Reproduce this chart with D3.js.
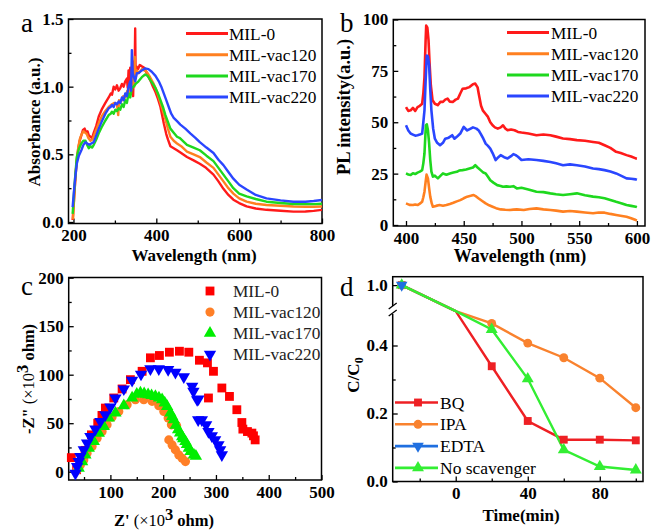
<!DOCTYPE html>
<html>
<head>
<meta charset="UTF-8">
<title>MIL panels</title>
<script src="https://cdn.jsdelivr.net/npm/d3@7"></script>
<style>
body{margin:0;background:#fff}
svg text{font-family:"Liberation Serif","Times New Roman",serif}
</style>
</head>
<body>
<div id="root"></div>
<script>
// ---- panel a : UV-vis absorbance [wavelength, absorbance]
const absMIL0 = [[198,0.015],[201,0.15],[204,0.29],[207,0.42],[211,0.53],[215,0.6],[219,0.64],[223,0.68],[227,0.69],[231,0.66],[234,0.67],[237,0.64],[241,0.63],[245,0.62],[249,0.66],[255,0.71],[261,0.78],[268,0.83],[277,0.88],[285,0.92],[290,0.95],[293,0.94],[297,1.0],[301,0.98],[305,1.01],[309,0.97],[313,0.99],[317,1.02],[321,1.0],[325,1.04],[329,1.06],[331,0.99],[333,1.12],[335,1.05],[337,1.14],[339,0.98],[342,1.15],[344,0.93],[346,1.18],[348,1.2],[349,1.43],[350,1.1],[352,1.15],[356,1.13],[360,1.16],[365,1.15],[371,1.14],[377,1.1],[385,1.05],[392,1.0],[398,0.96],[404,0.91],[410,0.85],[418,0.73],[424,0.65],[428,0.61],[434,0.56],[442,0.545],[450,0.53],[460,0.51],[474,0.48],[490,0.455],[505,0.43],[520,0.4],[538,0.35],[550,0.3],[562,0.245],[574,0.2],[586,0.165],[600,0.14],[618,0.115],[640,0.1],[666,0.09],[700,0.083],[731,0.077],[760,0.078],[780,0.082],[800,0.09]]
const absVac120 = [[199,0.02],[202,0.2],[205,0.35],[208,0.46],[212,0.56],[216,0.62],[220,0.65],[224,0.67],[228,0.66],[232,0.65],[236,0.62],[241,0.6],[246,0.61],[251,0.65],[256,0.69],[261,0.73],[268,0.78],[277,0.82],[285,0.85],[293,0.87],[299,0.88],[305,0.87],[308,0.79],[310,0.9],[315,0.89],[320,0.93],[325,0.92],[330,0.97],[334,0.95],[337,1.02],[341,0.98],[345,1.08],[347,1.0],[348,1.22],[350,1.06],[353,1.12],[358,1.1],[365,1.13],[371,1.12],[377,1.11],[385,1.07],[392,1.03],[398,0.99],[404,0.94],[410,0.88],[416,0.82],[422,0.76],[428,0.69],[434,0.63],[442,0.6],[450,0.58],[460,0.56],[474,0.52],[490,0.5],[505,0.48],[521,0.44],[538,0.4],[550,0.35],[562,0.3],[574,0.25],[586,0.21],[600,0.175],[618,0.15],[640,0.135],[666,0.126],[700,0.12],[731,0.115],[760,0.113],[780,0.113],[800,0.115]]
const absVac170 = [[198,0.06],[201,0.2],[204,0.33],[208,0.48],[213,0.54],[219,0.58],[224,0.6],[229,0.6],[233,0.57],[237,0.545],[241,0.56],[245,0.55],[249,0.57],[255,0.61],[261,0.655],[268,0.7],[277,0.75],[285,0.79],[290,0.8],[293,0.815],[297,0.8],[301,0.83],[305,0.82],[309,0.84],[313,0.83],[317,0.87],[321,0.85],[325,0.9],[329,0.88],[333,0.95],[337,0.92],[341,0.99],[345,1.0],[350,1.02],[357,1.04],[365,1.07],[373,1.09],[379,1.08],[385,1.05],[392,1.02],[398,0.99],[404,0.95],[410,0.9],[416,0.85],[422,0.79],[428,0.74],[434,0.69],[442,0.66],[450,0.63],[457,0.62],[474,0.57],[490,0.55],[505,0.53],[521,0.49],[538,0.45],[550,0.4],[562,0.35],[574,0.3],[586,0.25],[600,0.21],[618,0.19],[640,0.17],[666,0.15],[700,0.14],[731,0.133],[760,0.132],[780,0.132],[800,0.135]]
const absVac220 = [[198,0.11],[201,0.22],[204,0.32],[208,0.43],[213,0.49],[219,0.53],[224,0.57],[229,0.59],[233,0.58],[238,0.57],[243,0.58],[249,0.59],[255,0.64],[261,0.69],[268,0.74],[277,0.8],[285,0.84],[290,0.85],[293,0.865],[297,0.85],[301,0.88],[305,0.87],[309,0.89],[313,0.88],[317,0.92],[321,0.9],[325,0.95],[329,0.93],[333,1.0],[337,1.04],[339,0.97],[341,1.27],[343,1.1],[345,1.08],[349,1.04],[353,1.1],[357,1.1],[365,1.12],[373,1.135],[381,1.13],[389,1.11],[398,1.08],[406,1.04],[412,1.0],[418,0.95],[424,0.9],[430,0.85],[436,0.8],[442,0.77],[450,0.745],[458,0.72],[470,0.69],[482,0.655],[495,0.62],[505,0.59],[521,0.55],[538,0.51],[550,0.46],[562,0.42],[574,0.37],[586,0.32],[600,0.275],[618,0.24],[640,0.2],[666,0.175],[700,0.16],[731,0.15],[760,0.15],[780,0.155],[800,0.163]]

// ---- panel b : PL spectra [wavelength, intensity]
const plMIL0 = [[400,57.4],[402,55.5],[404,55.8],[406,57],[408,55.5],[410,57.4],[412,58],[414,59],[415,64],[416,72],[417,90],[417.5,97],[418.5,96],[419.5,90],[420.5,78],[421.5,68],[423,60.7],[425,59],[427.5,58.3],[430,60],[432,59.9],[434,61],[436,61.5],[438,60],[440.5,59.9],[443,61],[445,61.5],[447,64],[449,66.3],[452,66.5],[455,67.1],[458,68.5],[460,68.8],[462,67],[463,63.9],[465,58],[466.5,55.8],[469,54],[471,52.6],[473,50],[475,48.5],[477,47.5],[479.5,46.9],[482,47.5],[484,48.5],[486,47],[488,46.1],[491,46.5],[494,46.1],[497,45.3],[500,45],[506,44.5],[513,43.7],[519,44],[525,43.7],[530,43],[536,42.1],[542,41.8],[548,41.3],[555,41],[562,40.4],[567,40],[572,38.8],[577,37.5],[582,35.6],[586,35],[591,34],[595,33.3],[599,32.4],[600,32.3]]
const plVac120 = [[400,10.5],[403,9.8],[406,9.7],[408,10],[410,9.7],[412,10.4],[414,11.3],[415,13.5],[416,16.2],[417,21],[417.8,24.5],[419,22.7],[420,18],[421,13.8],[422.3,10.5],[423.3,8.9],[426,9.3],[429,9.7],[432,9.4],[435,9.7],[438,10.2],[441,10.8],[444,11.5],[447,12.1],[450,13],[453,13.8],[456,14.2],[458.6,14.6],[461,13.8],[463,12.9],[466,11.7],[469,10.5],[472,9.6],[475,8.9],[478,8.2],[482,7.6],[486,7.4],[490,7.3],[493,7.5],[496,7.6],[502,7.3],[507,7.8],[513,8.1],[519,7.6],[525,7.3],[530,7],[536,6.5],[542,6.8],[548,6.5],[555,6.1],[562,5.7],[567,6.1],[572,6],[577,5.4],[582,4.9],[587,4.4],[591,4],[595,3.3],[599,2.4],[600,2.2]]
const plVac170 = [[400,25.1],[402,24.6],[404,24.3],[406,25.2],[408,24.8],[410,25.5],[412,26],[414,26.7],[415,30],[416,34.8],[417.2,48.5],[418,49],[419,46.1],[420,40],[421,31.6],[422,26],[423.3,23.5],[425,24],[427.6,22.7],[430,24],[432,25.1],[435,24.5],[438,25.1],[441,25.5],[444,25.9],[446,26.5],[449,26.7],[452,27],[455,27.5],[458,28],[460,29.1],[462,28],[464.6,26.7],[467,25.5],[469,25.1],[471,23.5],[473,21.8],[476,20.5],[479,19.4],[482,19],[484,18.6],[487,18.8],[490,18.6],[493,18.9],[496,17.8],[500,18.1],[506,17.3],[513,16.2],[519,16],[525,15.4],[530,15],[536,14.6],[542,15],[548,15.4],[555,14.5],[562,13.8],[567,13.5],[572,13],[577,12.2],[582,11.3],[587,10.5],[591,9.7],[595,9.3],[599,8.9],[600,8.7]]
const plVac220 = [[400,48.5],[402,46],[404,44.5],[406,44],[408,43.5],[410,43.7],[412,44],[414,44.5],[415,50],[416,55.8],[417,70],[418,82.5],[419,82],[420,78],[421,66],[422,55.8],[423.5,47],[425,42],[427,40],[429.5,38.8],[432,40],[434,42],[437,42.5],[440,43.7],[442,42],[444,42.9],[447,44.5],[450,47.7],[453,46],[456,46.9],[458,47.5],[461,46.9],[463,46],[464.6,44.5],[467,42],[469,39.6],[471,38.5],[473,37.2],[475,35],[477.6,31.6],[480,33],[482,34],[485,33],[488,32.4],[491,33.5],[493,34.5],[495,34],[497,33.2],[500,31.6],[506,32],[513,31.6],[519,31.2],[525,30.7],[530,30],[536,29.1],[542,29.5],[548,29.1],[555,28.5],[562,27.5],[567,27.2],[572,26.7],[577,26],[582,25.1],[587,23.8],[591,22.7],[595,22.5],[599,22.2],[600,22]]

// ---- panel c : Nyquist [Z', -Z''] in 10^3 ohm
const eisMIL0 = [[26,14.5],[36,2],[52,22],[64,38],[76,50],[84,58],[90.5,65.6],[106.4,76],[122.2,85.3],[137.9,94.9],[160.1,103.5],[175.8,117.4],[192.9,119.8],[211.8,123.2],[230.8,124.2],[248.6,123.2],[268.7,114.9],[283.9,112.2],[295.3,103.5],[311.2,86.3],[285.8,76],[325.6,77.6],[339.6,63.9],[349.1,50.7],[351,43.9],[359.7,41.4],[368.1,39.8],[371.1,37],[374.3,32.8]]
const eisVac120 = [[36.9,1.8],[43.1,6.9],[49.6,12.1],[55.8,19],[65.3,25.9],[74.8,34.6],[84.3,41.4],[93.7,48.3],[103.2,56.3],[115.9,62.1],[131.7,69],[147.4,74.2],[163.3,74.2],[179,72.5],[191.7,68],[201.2,62.1],[209.4,55.3],[215.6,48.3],[225.5,47.5],[210.7,32.8],[217,27.6],[223.2,22.5],[229.7,17.3],[235.9,13.9],[242.2,10.4]]
const eisVac170 = [[40,3.5],[46.4,10.4],[52.6,17.3],[59,24.2],[68.5,31.1],[78,39.8],[87.5,46.6],[97,55.3],[109.5,60.5],[125.4,68],[141.1,76],[150,80],[156.9,81.2],[164,80.5],[171.5,79.4],[178,78.5],[185.3,77.6],[192,76],[198,74.2],[203,71],[207.5,67.3],[213.7,60.5],[217,57],[220.2,53.5],[224,48],[228.3,43.2],[232,40],[235.9,36.2],[238,34],[242.2,31.1],[245,28],[248.6,24.2],[252,21],[258.1,17.3],[262,16]]
const eisVac220 = [[33.7,-1.7],[36.9,5.2],[40,10.4],[43.1,15.5],[49.6,22.5],[55.8,29.4],[62.1,36.2],[71.6,43.9],[81,51.8],[90.5,58.7],[100,66.7],[109.5,76],[125.4,85.3],[141.1,94.2],[158,100.5],[175.8,106],[191.7,106],[209.4,105.3],[223.2,102.5],[239.1,97.7],[254.9,88],[257.3,82.8],[264.4,74.2],[266.8,75],[266.3,53.5],[273.3,53.5],[281.4,48.3],[285.8,41.4],[292.2,37],[298.5,32.8],[304.7,27.6],[308,22.5],[311.2,17.3]]

// ---- panel d : scavenger test
const dTime = [-30, 0, 20, 40, 60, 80, 100]
const dBQ = [1.0, 0.506, 0.339, 0.178, 0.123, 0.123, 0.121]
const dIPA = [1.0, 0.506, 0.465, 0.407, 0.364, 0.304, 0.217]
const dEDTA = [1.0, 0.506]
const dNone = [1.0, 0.506, 0.447, 0.302, 0.093, 0.044, 0.034]

const names = ["MIL-0", "MIL-vac120", "MIL-vac170", "MIL-vac220"]
const dNames = ["BQ", "IPA", "EDTA", "No scavenger"]

const lineCol = ["#ff1a1a", "#ff8020", "#1ed81e", "#2a46ff"]
const eisCol = ["#ff0000", "#ff7f27", "#00ee00", "#0000ff"]
const dCol = ["#ee2024", "#f9822e", "#1f6fe0", "#33ee33"]

let width = 651, height = 530
let svg = d3.select("#root").append("svg").attr("width", width).attr("height", height)
let serif = '"Liberation Serif","Times New Roman",serif'

function axes(box, x, y, o) {
    let g = svg.append("g")
    let id = "clip" + o.name
    svg.append("clipPath").attr("id", id).append("rect")
        .attr("x", box.l).attr("y", box.t).attr("width", box.r - box.l).attr("height", box.b - box.t)

    let fixup = function (s) {
        s.select(".domain").remove()
        s.selectAll("line").attr("stroke", "#000").attr("stroke-width", 1.3)
        s.selectAll("text").attr("font-family", serif).attr("font-size", 17).attr("font-weight", "bold").attr("fill", "#000")
    }
    g.append("g").attr("transform", "translate(0," + box.b + ")")
        .call(d3.axisBottom(x).tickValues(o.xMajor).tickSize(-5).tickPadding(5.5).tickFormat(o.xFmt)).call(fixup)
    g.append("g").attr("transform", "translate(0," + box.b + ")")
        .call(d3.axisBottom(x).tickValues(o.xMinor).tickSize(-3).tickFormat("")).call(fixup)
    g.append("g").attr("transform", "translate(" + box.l + ",0)")
        .call(d3.axisLeft(y).tickValues(o.yMajor).tickSize(-5).tickPadding(5).tickFormat(o.yFmt)).call(fixup)
    g.append("g").attr("transform", "translate(" + box.l + ",0)")
        .call(d3.axisLeft(y).tickValues(o.yMinor).tickSize(-3).tickFormat("")).call(fixup)

    g.append("rect").attr("x", box.l).attr("y", box.t).attr("width", box.r - box.l).attr("height", box.b - box.t)
        .attr("fill", "none").attr("stroke", "#000").attr("stroke-width", 1.5)
    return { g: g, clip: "url(#" + id + ")" }
}

function label(txt, x, y) {
    svg.append("text").attr("x", x).attr("y", y).attr("font-size", 27).text(txt)
}

function title(txt, x, y, rot, size) {
    let t = svg.append("text").attr("font-size", size || 17).attr("font-weight", "bold").attr("text-anchor", "middle")
    if (rot) t.attr("transform", "translate(" + x + "," + y + ") rotate(-90)")
    else t.attr("x", x).attr("y", y)
    t.text(txt)
    return t
}

// ------------------------------ a ------------------------------
let boxA = { l: 68.5, r: 322, t: 19, b: 223.5 }
let xA = d3.scaleLinear().domain([188, 800]).range([boxA.l, boxA.r])
let yA = d3.scaleLinear().domain([0, 1.5]).range([222, 19])
let pA = axes(boxA, xA, yA, {
    name: "a", xMajor: [200, 400, 600, 800], xMinor: [300, 500, 700], xFmt: d3.format("d"),
    yMajor: [0, 0.5, 1, 1.5], yMinor: [0.25, 0.75, 1.25], yFmt: d3.format(".1f")
})
let lineA = d3.line().x(d => xA(d[0])).y(d => yA(d[1]))
let absAll = [absMIL0, absVac120, absVac170, absVac220]
absAll.forEach((s, i) => {
    pA.g.append("path").attr("d", lineA(s)).attr("fill", "none").attr("stroke", lineCol[i])
        .attr("stroke-width", 2.4).attr("stroke-linejoin", "round").attr("clip-path", pA.clip)
})
names.forEach((n, i) => {
    let yy = 33.5 + i * 21.2
    svg.append("line").attr("x1", 186).attr("x2", 228).attr("y1", yy).attr("y2", yy).attr("stroke", lineCol[i]).attr("stroke-width", 3)
    svg.append("text").attr("x", 229).attr("y", yy).attr("dy", "0.35em").attr("font-size", 17.3).text(n)
})
label("a", 21, 32)
title("Wavelength (nm)", 194, 261)
title("Absorbance (a.u.)", 40, 122, true)

// ------------------------------ b ------------------------------
let boxB = { l: 393.3, r: 645, t: 19.5, b: 226 }
let xB = d3.scaleLinear().domain([389, 607]).range([boxB.l, boxB.r])
let yB = d3.scaleLinear().domain([0, 100]).range([225, 19.5])
let pB = axes(boxB, xB, yB, {
    name: "b", xMajor: [400, 450, 500, 550, 600], xMinor: [425, 475, 525, 575], xFmt: d3.format("d"),
    yMajor: [0, 25, 50, 75, 100], yMinor: [12.5, 37.5, 62.5, 87.5], yFmt: d3.format("d")
})
let lineB = d3.line().x(d => xB(d[0])).y(d => yB(d[1]))
let plAll = [plMIL0, plVac120, plVac170, plVac220]
plAll.forEach((s, i) => {
    pB.g.append("path").attr("d", lineB(s)).attr("fill", "none").attr("stroke", lineCol[i])
        .attr("stroke-width", 2.6).attr("stroke-linejoin", "round").attr("clip-path", pB.clip)
})
names.forEach((n, i) => {
    let yy = 32.5 + i * 21.2
    svg.append("line").attr("x1", 507).attr("x2", 549).attr("y1", yy).attr("y2", yy).attr("stroke", lineCol[i]).attr("stroke-width", 3)
    svg.append("text").attr("x", 551).attr("y", yy).attr("dy", "0.35em").attr("font-size", 17.3).text(n)
})
label("b", 340, 32)
title("Wavelength (nm)", 520, 262, false, 18)
title("PL intensity(a.u.)", 350, 107, true, 18.5)

// ------------------------------ c ------------------------------
let boxC = { l: 68.7, r: 321.5, t: 277.5, b: 480 }
let xC = d3.scaleLinear().domain([21, 500]).range([boxC.l, boxC.r])
let yC = d3.scaleLinear().domain([0, 200]).range([471.7, 277.7])
let pC = axes(boxC, xC, yC, {
    name: "c", xMajor: [100, 200, 300, 400, 500], xMinor: [50, 150, 250, 350, 450], xFmt: d3.format("d"),
    yMajor: [0, 50, 100, 150, 200], yMinor: [25, 75, 125, 175], yFmt: d3.format("d")
})
let eisAll = [eisMIL0, eisVac120, eisVac170, eisVac220]
let symC = [d3.symbolSquare, d3.symbolCircle, d3.symbolTriangle, d3.symbolTriangle]
let sizeC = [78, 66, 66, 66]
function marker(g, type, size, col, cx, cy, flip) {
    g.append("path").attr("d", d3.symbol().type(type).size(size)())
        .attr("transform", "translate(" + cx + "," + cy + ")" + (flip ? " rotate(180)" : ""))
        .attr("fill", col)
}
eisAll.forEach((s, i) => {
    s.forEach(p => marker(pC.g, symC[i], sizeC[i], eisCol[i], xC(p[0]), yC(p[1]), i == 3))
})
names.forEach((n, i) => {
    let yy = 291 + i * 21.1
    marker(svg, symC[i], sizeC[i], eisCol[i], 210, yy, i == 3)
    svg.append("text").attr("x", 233).attr("y", yy).attr("dy", "0.35em").attr("font-size", 17.3).attr("fill", "#222").text(n)
})
label("c", 21, 295)
let tyC = svg.append("text").attr("font-size", 16.5).attr("text-anchor", "middle")
    .attr("transform", "translate(34,379) rotate(-90)")
tyC.append("tspan").attr("font-weight", "bold").text('-Z" ')
tyC.append("tspan").text("(\u00d710")
tyC.append("tspan").attr("dy", -6).attr("font-weight", "bold").text("3")
tyC.append("tspan").attr("dy", 6).attr("font-weight", "bold").text(" ohm)")
let txC = svg.append("text").attr("font-size", 16.5).attr("text-anchor", "middle").attr("x", 164).attr("y", 526)
txC.append("tspan").attr("font-weight", "bold").text("Z' ")
txC.append("tspan").text("(\u00d710")
txC.append("tspan").attr("dy", -6).attr("font-weight", "bold").text("3")
txC.append("tspan").attr("dy", 6).attr("font-weight", "bold").text(" ohm)")

// ------------------------------ d ------------------------------
let boxD = { l: 392.7, r: 643, t: 276.7, b: 481.5 }
let xD = d3.scaleLinear().domain([-35, 104]).range([boxD.l, boxD.r])
let yD = d3.scaleLinear().domain([0, 0.5, 1.154]).range([481.5, 311.5, 277])
let pD = axes(boxD, xD, yD, {
    name: "d", xMajor: [0, 40, 80], xMinor: [-20, 20, 60, 100], xFmt: d3.format("d"),
    yMajor: [0, 0.2, 0.4, 1.0], yMinor: [0.1, 0.3], yFmt: d3.format(".1f")
})
// axis break
svg.append("rect").attr("x", boxD.l - 3).attr("y", 306).attr("width", 6).attr("height", 8).attr("fill", "#fff")
svg.append("line").attr("x1", boxD.l - 4).attr("y1", 309).attr("x2", boxD.l + 4).attr("y2", 303).attr("stroke", "#000").attr("stroke-width", 1.3)
svg.append("line").attr("x1", boxD.l - 4).attr("y1", 316).attr("x2", boxD.l + 4).attr("y2", 310).attr("stroke", "#000").attr("stroke-width", 1.3)

let dAll = [dBQ, dIPA, dEDTA, dNone]
let symD = [d3.symbolSquare, d3.symbolCircle, d3.symbolTriangle, d3.symbolTriangle]
let sizeD = [62, 62, 58, 62]
let lineD = d3.line().x(d => xD(d.t)).y(d => yD(d.v))
let dPts = dAll.map(s => s.map((v, k) => ({ t: dTime[k], v: v })))
// lines: EDTA underneath the others
let order = [2, 0, 1, 3]
order.forEach(i => {
    pD.g.append("path").attr("d", lineD(dPts[i])).attr("fill", "none").attr("stroke", dCol[i])
        .attr("stroke-width", 2.4).attr("clip-path", pD.clip)
})
let mOrder = [0, 1, 3, 2]
mOrder.forEach(i => {
    dPts[i].filter(p => p.t != 0).forEach(p => marker(pD.g, symD[i], sizeD[i], dCol[i], xD(p.t), yD(p.v), i == 2))
})
dNames.forEach((n, i) => {
    let yy = 402.5 + i * 21.8
    svg.append("line").attr("x1", 395).attr("x2", 438).attr("y1", yy).attr("y2", yy).attr("stroke", dCol[i]).attr("stroke-width", 2.6)
    marker(svg, symD[i], sizeD[i], dCol[i], 418, yy, i == 2)
    svg.append("text").attr("x", 440).attr("y", yy).attr("dy", "0.35em").attr("font-size", 17.5).text(n)
})
label("d", 340, 296)
title("Time(min)", 521, 521)
let tyD = svg.append("text").attr("font-size", 17).attr("font-weight", "bold").attr("text-anchor", "middle")
    .attr("transform", "translate(359,375) rotate(-90)")
tyD.append("tspan").text("C/C")
tyD.append("tspan").attr("dy", 4).attr("font-size", 12).text("0")
</script>
</body>
</html>
